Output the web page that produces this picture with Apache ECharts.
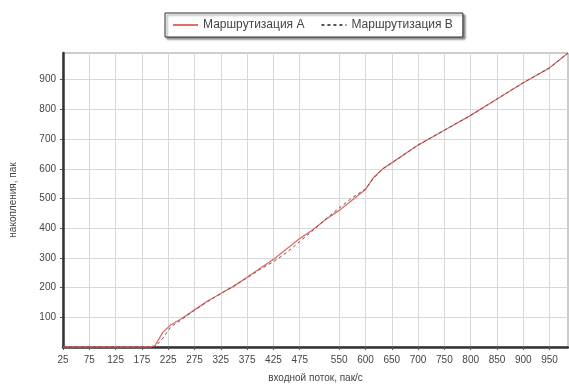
<!DOCTYPE html>
<html>
<head>
<meta charset="utf-8">
<script src="https://cdn.jsdelivr.net/npm/echarts@6/dist/echarts.min.js"></script>
<style>
html,body{margin:0;padding:0;background:#fff;}
#c{width:569px;height:388px;}
</style>
</head>
<body>
<div id="c"></div>
<script>
// Data
var xValues = [25, 100, 125, 150, 175, 190, 200, 215, 230, 250, 275, 300, 325, 350, 375, 400, 425, 450, 475, 500, 525, 550, 575, 600, 615, 633, 650, 700, 750, 800, 850, 900, 950, 985];
var seriesA = [0, 0, 0, 0, 0, 0, 5, 50, 75, 95, 125, 155, 180, 205, 235, 265, 295, 330, 365, 395, 430, 460, 495, 530, 570, 600, 620, 680, 730, 780, 835, 890, 940, 990];
var seriesB = [0, 0, 0, 0, 0, 0, 0, 30, 68, 92, 124, 153, 180, 206, 233, 262, 287, 318, 355, 392, 432, 468, 503, 532, 568, 600, 620, 680, 730, 780, 835, 890, 940, 990];
var xTickLabels = [25, 75, 125, 175, 225, 275, 325, 375, 425, 475, 550, 600, 650, 700, 750, 800, 850, 900, 950];
var yTickLabels = [100, 200, 300, 400, 500, 600, 700, 800, 900];
var nameA = 'Маршрутизация A';
var nameB = 'Маршрутизация B';
var xTitle = 'входной поток, пак/с';
var yTitle = 'накопления, пак';

function pairs(xs, ys) {
  var out = [];
  for (var i = 0; i < xs.length; i++) out.push([xs[i], ys[i]]);
  return out;
}

var font = 'Liberation Sans, Arial, sans-serif';
var chart = echarts.init(document.getElementById('c'), null, {renderer: 'canvas'});
chart.setOption({
  animation: false,
  backgroundColor: '#fff',
  grid: {left: 58, right: 1, top: 53, bottom: 38, show: true, borderColor: '#999', borderWidth: 1},
  legend: {
    top: 13, left: 165,
    data: [{name: nameA, itemStyle: {opacity: 0}}, {name: nameB, itemStyle: {opacity: 0}}],
    borderColor: '#333', borderWidth: 1,
    backgroundColor: '#fff',
    shadowBlur: 2, shadowOffsetX: 2, shadowOffsetY: 2, shadowColor: 'rgba(0,0,0,0.45)',
    padding: [6, 10, 6, 7],
    itemGap: 16,
    itemWidth: 25, itemHeight: 10,
    textStyle: {fontSize: 12, color: '#444', fontFamily: font}
  },
  xAxis: {
    type: 'value', min: 25, max: 985,
    name: xTitle, nameLocation: 'middle', nameGap: 26,
    nameTextStyle: {fontSize: 10, color: '#444', fontFamily: font},
    axisLine: {show: true, lineStyle: {color: '#333', width: 2.5}},
    axisTick: {show: true, length: 3, lineStyle: {color: '#555'}, customValues: xTickLabels},
    axisLabel: {customValues: xTickLabels, fontSize: 10, color: '#444', fontFamily: font, margin: 8},
    splitLine: {show: true, lineStyle: {color: '#d8d8d8', width: 1}}
  },
  yAxis: {
    type: 'value', min: 0, max: 990,
    name: yTitle, nameLocation: 'middle', nameGap: 45, nameRotate: 90,
    nameTextStyle: {fontSize: 10, color: '#444', fontFamily: font},
    axisLine: {show: true, lineStyle: {color: '#333', width: 2.5}},
    axisTick: {show: true, length: 3, lineStyle: {color: '#555'}, customValues: yTickLabels},
    axisLabel: {customValues: yTickLabels, fontSize: 10, color: '#444', fontFamily: font, margin: 7},
    splitLine: {show: true, lineStyle: {color: '#d8d8d8', width: 1}}
  },
  series: [
    {
      name: nameA, type: 'line', symbol: 'none',
      data: pairs(xValues, seriesA),
      lineStyle: {color: '#e46a6a', width: 1.3},
      itemStyle: {color: '#e46a6a'}
    },
    {
      name: nameB, type: 'line', symbol: 'none',
      data: pairs(xValues, seriesB),
      lineStyle: {color: '#555', width: 1, type: [3, 3]},
      itemStyle: {color: '#555'}
    }
  ]
});
</script>
</body>
</html>
